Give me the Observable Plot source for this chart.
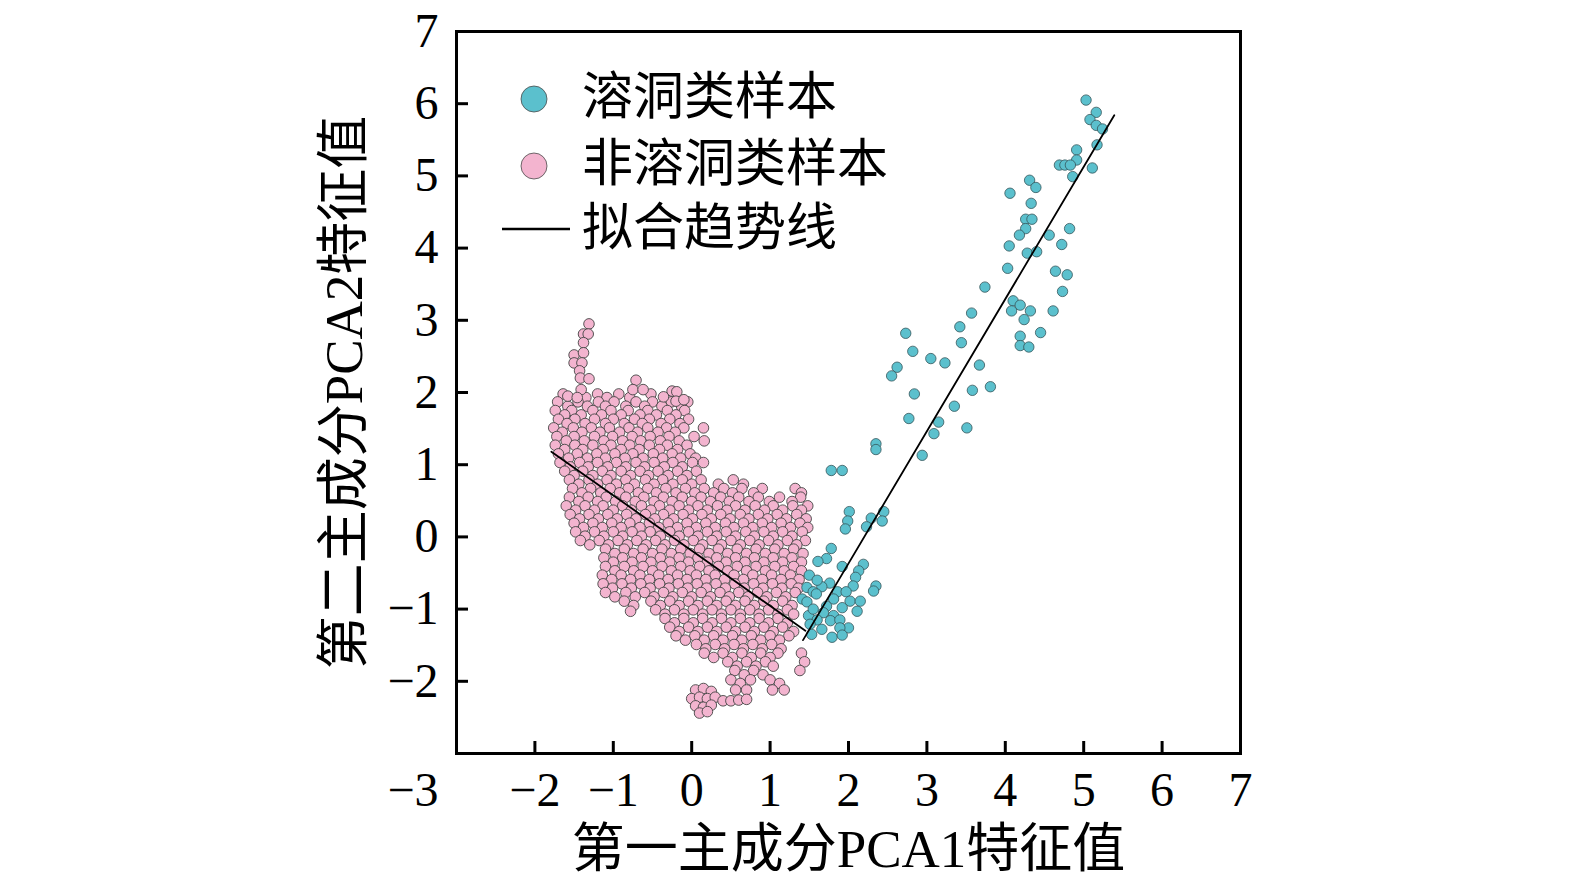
<!DOCTYPE html>
<html>
<head>
<meta charset="utf-8">
<script src="https://cdn.jsdelivr.net/npm/d3@7"></script>
<script src="https://cdn.jsdelivr.net/npm/@observablehq/plot@0.6"></script>
<style>
  body { margin: 0; background: #fff; }
  #chart { position: relative; width: 1575px; height: 883px; }
  #legend { position: absolute; left: 0; top: 0; }
</style>
</head>
<body>
<div id="chart"></div>
<script>
const xTicks = [-2, -1, 0, 1, 2, 3, 4, 5, 6, 7];
const xCornerTick = [-3];
const yTicks = [-2, -1, 0, 1, 2, 3, 4, 5, 6, 7];
const xTickMarks = [-2, -1, 0, 1, 2, 3, 4, 5, 6];
const yTickMarks = [-2, -1, 0, 1, 2, 3, 4, 5, 6];

const xTitle = "第一主成分PCA1特征值";
const yTitle = "第二主成分PCA2特征值";
const legendLabels = ["溶洞类样本", "非溶洞类样本", "拟合趋势线"];

const karstColor = "#5bc0cd";
const nonKarstColor = "#f3b4cf";

// karst samples (teal)
const karst = [
  [5.03, 6.05], [5.16, 5.88], [5.08, 5.78], [5.16, 5.70], [5.24, 5.65], [5.17, 5.43],
  [4.91, 5.36], [4.91, 5.22], [4.69, 5.15], [4.76, 5.15], [4.83, 5.15], [5.11, 5.11],
  [4.86, 4.99], [4.31, 4.94], [4.39, 4.84], [4.06, 4.76], [4.33, 4.62], [4.26, 4.40],
  [4.34, 4.40], [4.26, 4.27], [4.18, 4.18], [4.82, 4.27], [4.56, 4.18], [4.72, 4.05],
  [4.05, 4.03], [4.28, 3.93], [4.40, 3.95], [4.03, 3.72], [4.64, 3.68], [4.79, 3.63],
  [3.74, 3.46], [4.73, 3.40], [4.10, 3.27], [4.19, 3.21], [4.08, 3.13], [4.32, 3.13],
  [4.61, 3.13], [3.57, 3.10], [4.24, 3.01], [3.42, 2.91], [2.73, 2.82], [4.45, 2.83],
  [4.19, 2.78], [4.19, 2.65], [4.30, 2.63], [3.44, 2.69], [2.82, 2.57], [3.05, 2.47],
  [3.23, 2.41], [2.62, 2.35], [2.55, 2.23], [3.67, 2.38], [3.58, 2.03], [3.81, 2.08],
  [2.84, 1.98], [3.35, 1.81], [2.77, 1.64], [3.15, 1.59], [3.09, 1.43], [3.51, 1.51],
  [2.35, 1.29], [2.35, 1.21], [2.94, 1.13],
  [1.78, 0.92], [1.92, 0.92], [2.01, 0.35], [1.99, 0.22], [1.96, 0.11], [2.29, 0.26],
  [2.23, 0.14], [2.45, 0.35], [2.43, 0.22],
  [1.78, -0.16], [1.72, -0.30], [1.61, -0.34], [1.92, -0.41], [2.19, -0.38], [2.13, -0.47],
  [2.09, -0.56], [1.50, -0.53], [2.35, -0.68], [2.32, -0.75], [2.06, -0.68], [1.76, -0.64],
  [1.66, -0.69], [1.47, -0.70], [1.55, -0.76], [1.41, -0.86], [1.59, -0.79], [1.86, -0.76],
  [1.97, -0.76], [1.81, -0.86], [2.02, -0.89], [2.15, -0.89], [1.72, -0.96], [1.92, -0.98],
  [2.11, -1.03], [1.49, -1.09], [1.68, -1.05], [1.81, -1.09], [1.60, -1.15], [1.77, -1.16],
  [1.89, -1.15], [2.00, -1.26], [1.89, -1.26], [1.66, -1.28], [1.79, -1.39], [1.92, -1.36],
  [1.51, -1.21], [1.53, -1.35], [1.60, -0.60], [1.47, -0.90], [1.55, -1.00]
];

// non-karst samples (pink): tail and scattered points
const nonKarstExtra = [
  [-1.31, 2.95], [-1.38, 2.81], [-1.32, 2.81], [-1.38, 2.69], [-1.50, 2.52], [-1.38, 2.55],
  [-1.50, 2.41], [-1.40, 2.41], [-1.43, 2.30], [-1.42, 2.20], [-1.31, 2.19], [-1.41, 2.04],
  [-1.58, 1.95], [-1.46, 1.93], [-0.71, 2.17], [-0.75, 2.04], [-0.62, 2.04], [-0.25, 2.02],
  [-0.19, 2.01], [-0.36, 1.94], [-0.20, 1.88], [-0.10, 1.90],
  [0.05, -2.12], [0.15, -2.10], [0.25, -2.14], [0.00, -2.24], [0.10, -2.22], [0.20, -2.24],
  [0.30, -2.22], [0.05, -2.34], [0.15, -2.36], [0.25, -2.33], [0.10, -2.44], [0.20, -2.42],
  [0.40, -2.27], [0.50, -2.27], [0.60, -2.26], [0.70, -2.25], [-0.78, -1.03]
];

// non-karst samples (pink): main cloud, read row by row [y, xs]
const nonKarstRows = [
  [1.98, [-1.64, -1.20, -0.93, -0.52]],
  [1.93, [-1.35, -1.08, -0.79]],
  [1.87, [-1.71, -1.45, -1.19, -0.99, -0.71, -0.50, -0.26, -0.05]],
  [1.81, [-1.58, -1.33, -1.10, -0.84, -0.60, -0.38, -0.13]],
  [1.75, [-1.74, -1.53, -1.26, -1.03, -0.81, -0.56, -0.31, -0.09]],
  [1.69, [-1.62, -1.41, -1.15, -0.90, -0.66, -0.45, -0.20]],
  [1.63, [-1.70, -1.49, -1.24, -1.00, -0.73, -0.54, -0.28, -0.04]],
  [1.57, [-1.59, -1.36, -1.10, -0.86, -0.63, -0.39, -0.15]],
  [1.51, [-1.76, -1.51, -1.28, -1.05, -0.80, -0.56, -0.32, -0.10, 0.15]],
  [1.45, [-1.65, -1.40, -1.17, -0.92, -0.69, -0.43, -0.21]],
  [1.39, [-1.72, -1.50, -1.24, -1.01, -0.76, -0.53, -0.29, 0.03]],
  [1.33, [-1.60, -1.37, -1.12, -0.88, -0.65, -0.40, -0.16, 0.16]],
  [1.27, [-1.74, -1.49, -1.26, -1.03, -0.79, -0.54, -0.31, -0.06]],
  [1.21, [-1.62, -1.39, -1.13, -0.90, -0.67, -0.41, -0.18]],
  [1.15, [-1.70, -1.46, -1.21, -0.98, -0.75, -0.49, -0.25, -0.02]],
  [1.09, [-1.57, -1.33, -1.10, -0.85, -0.62, -0.37, -0.14, 0.05]],
  [1.03, [-1.68, -1.43, -1.20, -0.96, -0.71, -0.48, -0.24, 0.01, 0.15]],
  [0.97, [-1.55, -1.32, -1.07, -0.84, -0.60, -0.35, -0.12]],
  [0.91, [-1.62, -1.39, -1.14, -0.90, -0.66, -0.43, -0.18, 0.06]],
  [0.85, [-1.50, -1.26, -1.03, -0.78, -0.55, -0.30, -0.06]],
  [0.79, [-1.56, -1.31, -1.08, -0.84, -0.59, -0.37, -0.12, 0.12, 0.53]],
  [0.73, [-1.44, -1.20, -0.96, -0.73, -0.48, -0.24, 0.00, 0.34, 0.66]],
  [0.67, [-1.52, -1.29, -1.04, -0.81, -0.56, -0.33, -0.08, 0.16, 0.41, 0.64, 0.90, 1.32]],
  [0.61, [-1.40, -1.16, -0.92, -0.68, -0.45, -0.20, 0.04, 0.28, 0.52, 0.79, 1.40]],
  [0.55, [-1.56, -1.32, -1.09, -0.84, -0.61, -0.36, -0.12, 0.12, 0.37, 0.60, 0.85, 1.12, 1.39]],
  [0.49, [-1.44, -1.20, -0.97, -0.72, -0.48, -0.25, 0.00, 0.24, 0.48, 0.73, 0.99, 1.28]],
  [0.43, [-1.60, -1.36, -1.13, -0.88, -0.64, -0.41, -0.16, 0.08, 0.33, 0.56, 0.81, 1.04, 1.29, 1.48]],
  [0.37, [-1.48, -1.24, -1.00, -0.77, -0.52, -0.28, -0.04, 0.20, 0.45, 0.68, 0.93, 1.16, 1.40]],
  [0.31, [-1.55, -1.31, -1.07, -0.83, -0.59, -0.36, -0.11, 0.13, 0.37, 0.62, 0.85, 1.09, 1.34]],
  [0.25, [-1.43, -1.19, -0.95, -0.71, -0.47, -0.23, 0.01, 0.25, 0.49, 0.73, 0.97, 1.21, 1.46]],
  [0.19, [-1.50, -1.26, -1.02, -0.79, -0.54, -0.30, -0.06, 0.18, 0.43, 0.66, 0.90, 1.14, 1.38]],
  [0.13, [-1.38, -1.14, -0.90, -0.66, -0.42, -0.18, 0.06, 0.30, 0.54, 0.78, 1.02, 1.26, 1.48]],
  [0.07, [-1.48, -1.24, -1.00, -0.76, -0.53, -0.28, -0.04, 0.20, 0.44, 0.69, 0.92, 1.16, 1.41]],
  [0.01, [-1.36, -1.12, -0.88, -0.64, -0.40, -0.16, 0.08, 0.32, 0.56, 0.80, 1.04, 1.28]],
  [-0.05, [-1.42, -1.18, -0.94, -0.70, -0.46, -0.22, 0.02, 0.26, 0.50, 0.74, 0.98, 1.22, 1.45]],
  [-0.11, [-1.30, -1.06, -0.82, -0.58, -0.34, -0.10, 0.14, 0.38, 0.62, 0.86, 1.10, 1.34]],
  [-0.17, [-1.10, -0.86, -0.62, -0.38, -0.14, 0.10, 0.34, 0.58, 0.82, 1.06, 1.30]],
  [-0.23, [-0.98, -0.74, -0.50, -0.26, -0.02, 0.22, 0.46, 0.70, 0.94, 1.18, 1.42]],
  [-0.29, [-1.12, -0.88, -0.64, -0.40, -0.16, 0.08, 0.32, 0.56, 0.80, 1.04, 1.28]],
  [-0.35, [-1.00, -0.76, -0.52, -0.28, -0.04, 0.20, 0.44, 0.68, 0.92, 1.16, 1.40]],
  [-0.41, [-1.10, -0.86, -0.62, -0.38, -0.14, 0.10, 0.34, 0.58, 0.82, 1.06, 1.30]],
  [-0.47, [-0.98, -0.74, -0.50, -0.26, -0.02, 0.22, 0.46, 0.70, 0.94, 1.18, 1.40]],
  [-0.53, [-1.14, -0.90, -0.66, -0.42, -0.18, 0.06, 0.30, 0.54, 0.78, 1.02, 1.26]],
  [-0.59, [-1.02, -0.78, -0.54, -0.30, -0.06, 0.18, 0.42, 0.66, 0.90, 1.14, 1.37]],
  [-0.65, [-1.13, -0.89, -0.65, -0.41, -0.17, 0.07, 0.31, 0.55, 0.79, 1.03, 1.27]],
  [-0.71, [-1.01, -0.77, -0.53, -0.29, -0.05, 0.19, 0.43, 0.67, 0.91, 1.15, 1.36]],
  [-0.77, [-1.10, -0.84, -0.60, -0.36, -0.12, 0.12, 0.36, 0.60, 0.84, 1.08, 1.32]],
  [-0.83, [-0.98, -0.72, -0.48, -0.24, 0.00, 0.24, 0.48, 0.72, 0.96, 1.20]],
  [-0.89, [-0.86, -0.52, -0.28, -0.04, 0.20, 0.44, 0.68, 0.92, 1.16]],
  [-0.95, [-0.74, -0.40, -0.16, 0.08, 0.32, 0.56, 0.80, 1.04, 1.28]],
  [-1.01, [-0.46, -0.22, 0.02, 0.26, 0.50, 0.74, 0.98, 1.22]],
  [-1.07, [-0.34, -0.10, 0.14, 0.38, 0.62, 0.86, 1.10, 1.30]],
  [-1.13, [-0.34, -0.10, 0.14, 0.38, 0.62, 0.86, 1.10]],
  [-1.19, [-0.22, 0.02, 0.26, 0.50, 0.74, 0.98, 1.22]],
  [-1.25, [-0.28, -0.04, 0.20, 0.44, 0.68, 0.92, 1.16]],
  [-1.31, [-0.16, 0.08, 0.32, 0.56, 0.80, 1.04, 1.30]],
  [-1.37, [-0.20, 0.04, 0.28, 0.52, 0.76, 1.00, 1.24]],
  [-1.43, [-0.08, 0.16, 0.40, 0.64, 0.88, 1.12]],
  [-1.49, [0.06, 0.30, 0.54, 0.78, 1.02]],
  [-1.55, [0.18, 0.42, 0.66, 0.90, 1.14]],
  [-1.61, [0.16, 0.40, 0.64, 0.88, 1.10, 1.40]],
  [-1.67, [0.28, 0.52, 0.76, 1.00]],
  [-1.73, [0.46, 0.70, 0.94, 1.44]],
  [-1.79, [0.58, 0.82, 1.04]],
  [-1.85, [0.55, 0.79, 1.38]],
  [-1.91, [0.67, 0.91]],
  [-1.98, [0.50, 0.75, 1.00]],
  [-2.03, [0.62, 1.12]],
  [-2.12, [0.56, 0.70, 1.03, 1.18]]
];

// fitted trend lines
const trendLeft = [[-1.79, 1.18], [1.45, -1.30]];
const trendRight = [[1.42, -1.43], [5.39, 5.84]];

const nonKarst = nonKarstRows.flatMap(([y, xs]) => xs.map((x) => [x, y])).concat(nonKarstExtra);

const fmt = (d) => (d < 0 ? "\u2212" + -d : String(d));
const serif = "'Liberation Serif', 'Noto Sans CJK SC', serif";

const W = 1575, H = 883;
const margin = { top: 31, right: 335, bottom: 130, left: 456 };
const plotW = W - margin.left - margin.right;
const plotH = H - margin.top - margin.bottom;

const plot = Plot.plot({
  width: W,
  height: H,
  marginTop: margin.top,
  marginRight: margin.right,
  marginBottom: margin.bottom,
  marginLeft: margin.left,
  style: { fontFamily: serif, fontSize: "48px", color: "#000", background: "#fff" },
  x: { domain: [-3, 7], label: null },
  y: { domain: [-3, 7], label: null },
  marks: [
    Plot.dot(nonKarst, { x: "0", y: "1", r: 5.3, fill: nonKarstColor, stroke: "#444", strokeWidth: 0.9 }),
    Plot.dot(karst, { x: "0", y: "1", r: 5.2, fill: karstColor, stroke: "#35555a", strokeWidth: 0.8 }),
    Plot.line(trendLeft, { stroke: "#000", strokeWidth: 1.8 }),
    Plot.line(trendRight, { stroke: "#000", strokeWidth: 1.8 }),
    Plot.frame({ stroke: "#000", strokeWidth: 3 }),
    Plot.tickX(xTickMarks, { x: (d) => d, insetTop: plotH - 12, stroke: "#000", strokeWidth: 3 }),
    Plot.tickY(yTickMarks, { y: (d) => d, insetRight: plotW - 12, stroke: "#000", strokeWidth: 3 }),
    Plot.axisX(xTicks, { tickSize: 0, tickPadding: 18, tickFormat: fmt, fill: "#000" }),
    // the corner label sits left of the frame, lined up with the y labels
    Plot.axisX(xCornerTick, { tickSize: 0, tickPadding: 18, tickFormat: fmt, fill: "#000", textAnchor: "end", dx: -18 }),
    Plot.axisY(yTicks, { tickSize: 0, tickPadding: 18, tickFormat: fmt, fill: "#000" }),
    Plot.text([xTitle], {
      frameAnchor: "bottom", lineAnchor: "middle", textAnchor: "middle",
      dy: 97, fontSize: 53, fill: "#000"
    }),
    Plot.text([yTitle], {
      frameAnchor: "left", lineAnchor: "middle", textAnchor: "middle",
      dx: -111, rotate: -90, fontSize: 53, fill: "#000"
    })
  ]
});

const chart = document.getElementById("chart");
chart.appendChild(plot);

// legend inside the frame, top-left
const legend = d3.select(chart).append("svg")
  .attr("id", "legend")
  .attr("width", W)
  .attr("height", 280);

const rowY = [97, 164, 228];
legendLabels.forEach((label, i) => {
  if (i < 2) {
    legend.append("circle")
      .attr("cx", 534).attr("cy", rowY[i] + 2).attr("r", 13)
      .attr("fill", i === 0 ? karstColor : nonKarstColor)
      .attr("stroke", "#4a4a4a").attr("stroke-width", 0.8);
  } else {
    legend.append("line")
      .attr("x1", 502).attr("x2", 570).attr("y1", rowY[i] + 1).attr("y2", rowY[i] + 1)
      .attr("stroke", "#000").attr("stroke-width", 2.5);
  }
  legend.append("text")
    .attr("x", 582).attr("y", rowY[i])
    .attr("dominant-baseline", "central")
    .attr("font-family", serif)
    .attr("font-size", 51)
    .text(label);
});
</script>
</body>
</html>
